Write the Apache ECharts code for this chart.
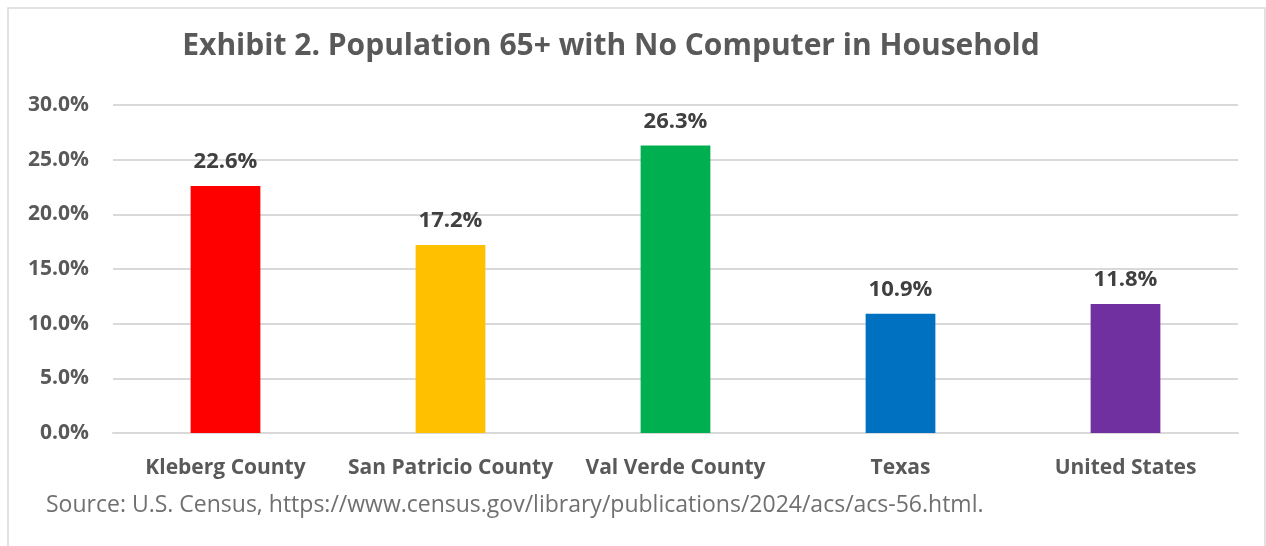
<!DOCTYPE html>
<html>
<head>
<meta charset="utf-8">
<script src="https://cdn.jsdelivr.net/npm/echarts@6/dist/echarts.min.js"></script>
<style>
  html, body { margin: 0; padding: 0; background: #ffffff; }
  #chart { width: 1266px; height: 546px; }
</style>
</head>
<body>
<div id="chart"></div>
<script>
// Share of population aged 65+ living in a household with no computer
const categories = ['Kleberg County', 'San Patricio County', 'Val Verde County', 'Texas', 'United States'];
const values = [22.6, 17.2, 26.3, 10.9, 11.8];
const barColors = ['#ff0000', '#ffc000', '#00b050', '#0070c0', '#7030a0'];
const yTicks = { min: 0, max: 30, interval: 5 };

const chart = echarts.init(document.getElementById('chart'), null, { renderer: 'canvas' });
const font = '"Open Sans", "Noto Sans", sans-serif';

chart.setOption({
  backgroundColor: '#ffffff',
  graphic: [
    {
      type: 'rect',
      shape: { x: 8, y: 8, width: 1257, height: 560 },
      style: { fill: 'none', stroke: '#d9d9d9', lineWidth: 1.5 },
      silent: true
    },
    {
      type: 'text',
      left: 46, top: 494,
      style: {
        text: 'Source: U.S. Census, https://www.census.gov/library/publications/2024/acs/acs-56.html.',
        font: '23px ' + font,
        fill: '#707070'
      }
    }
  ],
  title: {
    text: 'Exhibit 2. Population 65+ with No Computer in Household',
    left: 606, top: 26, textAlign: 'center',
    textStyle: { fontFamily: font, fontSize: 30, fontWeight: 'bold', color: '#595959' }
  },
  grid: { left: 113, right: 28, top: 105, bottom: 113, containLabel: false },
  xAxis: {
    type: 'category',
    data: categories,
    axisLine: { lineStyle: { color: '#d9d9d9', width: 2 } },
    axisTick: { show: false },
    axisLabel: {
      interval: 0, margin: 25, fontFamily: font, fontSize: 21, fontWeight: 'bold', color: '#595959'
    }
  },
  yAxis: {
    type: 'value',
    min: yTicks.min, max: yTicks.max, interval: yTicks.interval,
    axisLine: { show: false },
    axisTick: { show: false },
    splitLine: { lineStyle: { color: '#d9d9d9', width: 2 } },
    axisLabel: {
      margin: 24, fontFamily: font, fontSize: 21, fontWeight: 'bold', color: '#595959',
      formatter: v => v.toFixed(1) + '%'
    }
  },
  series: [{
    type: 'bar',
    barWidth: '31%',
    data: values.map((v, i) => ({ value: v, itemStyle: { color: barColors[i] } })),
    label: {
      show: true, position: 'top', distance: 13,
      fontFamily: font, fontSize: 22, fontWeight: 'bold', color: '#404040',
      formatter: p => p.value.toFixed(1) + '%'
    },
    animation: false
  }],
  animation: false
});
</script>
</body>
</html>
